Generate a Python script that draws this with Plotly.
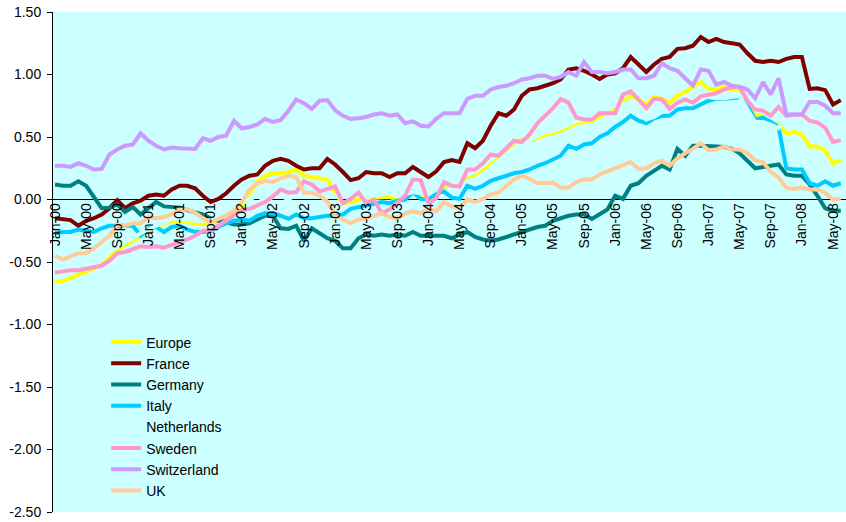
import pandas as pd
import plotly.graph_objects as go

# months Jan-00 .. Jun-08
months = list(pd.date_range("2000-01-01", periods=102, freq="MS").strftime("%b-%y"))
tick_months = months[::4][:26]

europe = [-0.66, -0.65, -0.63, -0.60, -0.58, -0.55, -0.50, -0.45, -0.40, -0.36,
          -0.33, -0.29, -0.25, -0.22, -0.20, -0.17, -0.18, -0.18, -0.19, -0.20,
          -0.19, -0.17, -0.14, -0.10, -0.06, 0.05, 0.14, 0.19, 0.21, 0.21,
          0.22, 0.24, 0.19, 0.18, 0.17, 0.16, 0.05, -0.03, -0.02, 0.00,
          0.01, 0.015, 0.02, 0.02, 0.00, 0.02, 0.05, 0.03, 0.01, 0.05,
          0.10, 0.12, 0.14, 0.18, 0.20, 0.24, 0.30, 0.35, 0.40, 0.45,
          0.48, 0.48, 0.49, 0.52, 0.53, 0.55, 0.58, 0.61, 0.62, 0.63,
          0.66, 0.70, 0.73, 0.78, 0.83, 0.80, 0.76, 0.82, 0.805, 0.775,
          0.83, 0.86, 0.90, 0.94, 0.885, 0.885, 0.90, 0.88, 0.885, 0.75,
          0.68, 0.665, 0.60, 0.60, 0.53, 0.54, 0.52, 0.425, 0.425, 0.39,
          0.29, 0.315]

france = [-0.15, -0.16, -0.165, -0.21, -0.17, -0.15, -0.12, -0.07, -0.005, -0.07,
          -0.03, -0.01, 0.03, 0.04, 0.03, 0.08, 0.11, 0.11, 0.09, 0.03,
          -0.02, 0.005, 0.05, 0.11, 0.16, 0.19, 0.20, 0.27, 0.31, 0.325,
          0.31, 0.27, 0.24, 0.25, 0.25, 0.325, 0.28, 0.22, 0.155, 0.17,
          0.22, 0.21, 0.21, 0.18, 0.21, 0.21, 0.26, 0.22, 0.18, 0.225,
          0.30, 0.315, 0.30, 0.45, 0.41, 0.47, 0.59, 0.69, 0.67, 0.72,
          0.83, 0.88, 0.89, 0.91, 0.93, 0.96, 1.04, 1.05, 1.03, 1.00,
          0.965, 1.00, 1.01, 1.05, 1.14, 1.08, 1.02, 1.08, 1.125, 1.14,
          1.205, 1.21, 1.23, 1.30, 1.26, 1.285, 1.26, 1.25, 1.24, 1.17,
          1.11, 1.10, 1.11, 1.10, 1.125, 1.14, 1.14, 0.885, 0.89, 0.875,
          0.76, 0.795]

germany = [0.12, 0.11, 0.11, 0.145, 0.11, 0.02, -0.07, -0.065, -0.04, -0.10,
           -0.06, -0.12, -0.07, -0.02, -0.055, -0.06, -0.065, -0.085, -0.10, -0.12,
           -0.15, -0.17, -0.18, -0.20, -0.20, -0.19, -0.16, -0.13, -0.13, -0.23,
           -0.235, -0.21, -0.33, -0.23, -0.27, -0.31, -0.33, -0.39, -0.39, -0.31,
           -0.28, -0.29, -0.28, -0.29, -0.28, -0.29, -0.26, -0.29, -0.29, -0.29,
           -0.29, -0.31, -0.28, -0.26, -0.30, -0.32, -0.33, -0.32, -0.30, -0.28,
           -0.26, -0.24, -0.22, -0.21, -0.17, -0.15, -0.13, -0.12, -0.12, -0.155,
           -0.12, -0.08, 0.03, 0.005, 0.11, 0.13, 0.19, 0.23, 0.27, 0.24,
           0.405, 0.35, 0.43, 0.43, 0.43, 0.425, 0.42, 0.405, 0.37, 0.315,
           0.25, 0.26, 0.27, 0.28, 0.20, 0.19, 0.19, 0.12, 0.03, -0.07,
           -0.09, -0.09]

italy = [-0.27, -0.26, -0.26, -0.24, -0.25, -0.26, -0.23, -0.21, -0.21, -0.21,
         -0.21, -0.29, -0.23, -0.22, -0.26, -0.22, -0.21, -0.24, -0.26, -0.26,
         -0.25, -0.22, -0.19, -0.17, -0.16, -0.17, -0.13, -0.11, -0.11, -0.13,
         -0.155, -0.12, -0.15, -0.15, -0.14, -0.13, -0.13, -0.12, -0.075, -0.06,
         -0.045, -0.03, -0.02, -0.03, -0.01, 0.00, 0.06, 0.005, 0.00, 0.05,
         0.065, 0.015, 0.005, 0.11, 0.085, 0.11, 0.15, 0.17, 0.19, 0.21,
         0.22, 0.24, 0.27, 0.29, 0.32, 0.35, 0.43, 0.405, 0.44, 0.45,
         0.50, 0.53, 0.58, 0.62, 0.67, 0.63, 0.61, 0.65, 0.67, 0.67,
         0.72, 0.73, 0.73, 0.76, 0.79, 0.805, 0.805, 0.81, 0.82, 0.75,
         0.64, 0.655, 0.62, 0.58, 0.25, 0.24, 0.24, 0.13, 0.11, 0.145,
         0.11, 0.13]

netherlands = [-0.60, -0.60, -0.58, -0.56, -0.56, -0.53, -0.48, -0.42, -0.38, -0.34,
               -0.31, -0.27, -0.24, -0.21, -0.19, -0.15, -0.16, -0.16, -0.17, -0.17,
               -0.16, -0.13, -0.09, -0.05, -0.02, 0.00, 0.03, -0.01, 0.02, 0.03,
               0.00, 0.04, 0.07, 0.09, 0.08, 0.06, 0.03, 0.02, 0.03, 0.04,
               0.02, 0.03, 0.04, 0.05, 0.03, 0.04, 0.06, 0.05, 0.04, 0.08,
               0.12, 0.13, 0.15, 0.20, 0.22, 0.27, 0.32, 0.37, 0.42, 0.46,
               0.46, 0.47, 0.51, 0.54, 0.55, 0.57, 0.60, 0.63, 0.64, 0.66,
               0.69, 0.72, 0.75, 0.76, 0.78, 0.70, 0.64, 0.66, 0.70, 0.72,
               0.76, 0.78, 0.80, 0.82, 0.82, 0.81, 0.81, 0.82, 0.83, 0.72,
               0.62, 0.62, 0.60, 0.57, 0.67, 0.68, 0.68, 0.63, 0.615, 0.575,
               0.46, 0.475]

sweden = [-0.585, -0.575, -0.565, -0.565, -0.555, -0.545, -0.53, -0.49, -0.43, -0.42,
          -0.395, -0.375, -0.38, -0.375, -0.385, -0.36, -0.34, -0.32, -0.29, -0.25,
          -0.25, -0.21, -0.17, -0.13, -0.085, -0.075, -0.05, -0.02, 0.025, 0.08,
          0.055, 0.06, 0.145, 0.12, 0.065, 0.085, 0.105, -0.03, 0.005, 0.055,
          -0.03, 0.00, -0.11, -0.08, -0.03, 0.03, 0.16, 0.155, -0.03, 0.01,
          0.14, 0.11, 0.105, 0.24, 0.24, 0.29, 0.36, 0.35, 0.41, 0.47,
          0.46, 0.52, 0.61, 0.665, 0.73, 0.805, 0.775, 0.655, 0.64, 0.64,
          0.69, 0.69, 0.69, 0.84, 0.865, 0.80, 0.73, 0.805, 0.80, 0.725,
          0.775, 0.80, 0.775, 0.825, 0.84, 0.85, 0.88, 0.90, 0.90, 0.79,
          0.72, 0.71, 0.67, 0.74, 0.67, 0.68, 0.68, 0.63, 0.615, 0.575,
          0.46, 0.475]

switzerland = [0.27, 0.27, 0.26, 0.29, 0.27, 0.24, 0.245, 0.36, 0.40, 0.43,
               0.44, 0.53, 0.47, 0.43, 0.40, 0.415, 0.41, 0.41, 0.405, 0.49,
               0.47, 0.50, 0.51, 0.63, 0.57, 0.58, 0.60, 0.645, 0.62, 0.635,
               0.71, 0.80, 0.77, 0.725, 0.79, 0.795, 0.715, 0.67, 0.645, 0.65,
               0.66, 0.68, 0.69, 0.67, 0.68, 0.61, 0.625, 0.59, 0.585, 0.645,
               0.69, 0.69, 0.69, 0.805, 0.83, 0.83, 0.88, 0.90, 0.91, 0.93,
               0.96, 0.97, 0.99, 0.99, 0.965, 0.98, 1.02, 0.99, 1.10, 1.02,
               1.02, 1.01, 1.02, 1.04, 1.04, 0.97, 0.97, 0.99, 1.09, 1.05,
               1.03, 0.97, 0.91, 1.04, 1.03, 0.92, 0.94, 0.91, 0.90, 0.88,
               0.81, 0.94, 0.84, 0.97, 0.68, 0.68, 0.68, 0.78, 0.78, 0.75,
               0.69, 0.69]

uk = [-0.45, -0.48, -0.455, -0.43, -0.43, -0.39, -0.34, -0.29, -0.20, -0.21,
      -0.19, -0.19, -0.14, -0.15, -0.14, -0.12, -0.075, -0.08, -0.105, -0.15,
      -0.18, -0.155, -0.13, -0.09, -0.02, 0.08, 0.13, 0.15, 0.14, 0.17,
      0.19, 0.18, 0.055, 0.055, 0.03, -0.015, -0.13, -0.16, -0.19, -0.16,
      -0.15, -0.13, -0.11, -0.14, -0.155, -0.11, -0.095, -0.11, -0.075, -0.095,
      -0.02, -0.055, -0.065, 0.00, -0.02, 0.005, 0.04, 0.055, 0.11, 0.16,
      0.19, 0.165, 0.13, 0.135, 0.135, 0.095, 0.095, 0.14, 0.16, 0.16,
      0.20, 0.225, 0.25, 0.27, 0.30, 0.245, 0.25, 0.29, 0.31, 0.27,
      0.33, 0.37, 0.405, 0.45, 0.395, 0.40, 0.425, 0.40, 0.40, 0.37,
      0.315, 0.30, 0.22, 0.175, 0.095, 0.085, 0.095, 0.08, 0.08, 0.055,
      0.00, 0.005]

series = [
    ('Europe', europe, '#FFFF00'),
    ('France', france, '#800000'),
    ('Germany', germany, '#008080'),
    ('Italy', italy, '#00CCFF'),
    ('Netherlands', netherlands, '#CCFFFF'),
    ('Sweden', sweden, '#FF99CC'),
    ('Switzerland', switzerland, '#CC99FF'),
    ('UK', uk, '#FFCC99'),
]

y_ticks = [1.5, 1.0, 0.5, 0.0, -0.5, -1.0, -1.5, -2.0, -2.5]

fig = go.Figure()
for name, values, color in series:
    fig.add_trace(go.Scatter(x=months, y=values, mode='lines', name=name,
                             line=dict(color=color, width=4)))

font = dict(family='Arial, Liberation Sans, sans-serif', size=14, color='black')

fig.update_layout(
    width=846, height=522,
    margin=dict(l=53, r=0, t=12, b=10),
    paper_bgcolor='white',
    plot_bgcolor='#CCFFFF',
    font=font,
    showlegend=True,
    legend=dict(x=0.067, y=0.371, xanchor='left', yanchor='top',
                bgcolor='rgba(0,0,0,0)', font=font, tracegroupgap=0),
)

fig.update_xaxes(
    type='category', categoryorder='array', categoryarray=months,
    range=[-0.26, 101.67], automargin=False,
    anchor='free', position=0.625,
    tickmode='array', tickvals=tick_months, ticktext=tick_months,
    tickangle=-90, ticks='', showgrid=False, showline=False, zeroline=False,
)

fig.update_yaxes(
    range=[-2.5, 1.5], automargin=False, ticklabeloverflow='allow',
    tickmode='array', tickvals=y_ticks, ticktext=[f'{v:.2f}' for v in y_ticks],
    ticks='outside', ticklen=5, tickcolor='black', ticklabelstandoff=3,
    showline=True, linecolor='black', linewidth=1,
    showgrid=False, zeroline=True, zerolinecolor='black', zerolinewidth=1,
)

# drop the default 8px page margin so the figure sits at the window's corner
fig.write_html("out.html", config={'displayModeBar': False},
               post_script="document.body.style.margin = '0';")
